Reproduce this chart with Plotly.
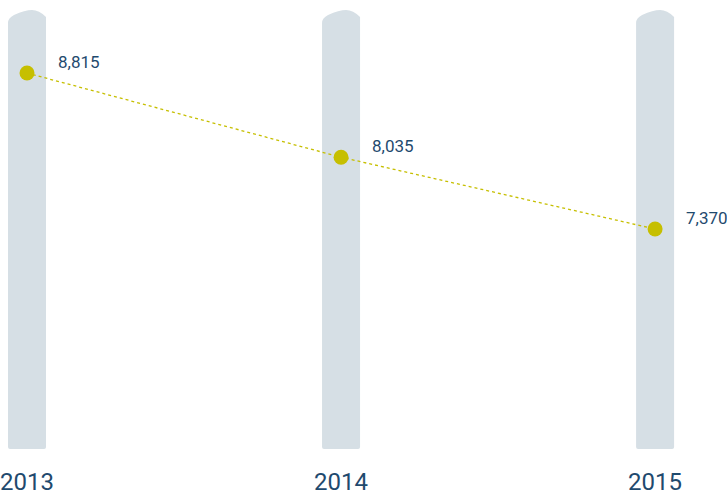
import plotly.graph_objects as go

# Data
years = ["2013", "2014", "2015"]
values = [8815, 8035, 7370]

x_pos = list(range(len(years)))
bar_color = "#d6dfe5"
dot_color = "#c6bf00"
text_color = "#1f4a6e"

# decorative columns behind each point (pencil-like tab at the top)
half_w = 19 / 314          # in x units
px_y = 1 / 439             # one pixel in paper units
shapes = []
for x in x_pos:
    l, r = x - half_w, x + half_w
    u = half_w / 19
    path = (
        f"M {l},0 L {l},{1 - 13 * px_y} "
        f"Q {l},{1 - 8 * px_y} {l + 6 * u},{1 - 5 * px_y} "
        f"Q {l + 17 * u},{1} {l + 24 * u},{1} "
        f"Q {l + 31 * u},{1} {r},{1 - 7 * px_y} "
        f"L {r},{2 * px_y} Q {r},0 {r - 2 * u},0 "
        f"L {l + 2 * u},0 Q {l},0 {l},{2 * px_y} Z"
    )
    shapes.append(dict(type="path", path=path, xref="x", yref="paper",
                       fillcolor=bar_color, line=dict(width=0), layer="below"))

trace = go.Scatter(
    x=x_pos, y=values, mode="lines+markers",
    line=dict(color=dot_color, width=1.3, dash="dot"),
    marker=dict(color=dot_color, size=15),
    hoverinfo="skip",
)

annotations = [
    dict(x=x, y=v, text=f"{v:,}", showarrow=False, xanchor="left", yanchor="middle",
         xshift=29, yshift=11, font=dict(size=17, color=text_color, family="Roboto"))
    for x, v in zip(x_pos, values)
]

layout = go.Layout(
    width=727, height=495,
    margin=dict(l=0, r=0, t=10, b=46),
    paper_bgcolor="white", plot_bgcolor="white",
    showlegend=False,
    shapes=shapes,
    annotations=annotations,
    xaxis=dict(range=[-0.086, 2.229], tickvals=x_pos, ticktext=years,
               showgrid=False, zeroline=False, showline=False, ticks="",
               ticklabelstandoff=16, ticklabeloverflow="allow",
               tickfont=dict(size=24, color=text_color, family="Roboto")),
    yaxis=dict(range=[5332, 9399], visible=False, showgrid=False, zeroline=False),
)

fig = go.Figure(data=[trace], layout=layout)
# drop the browser's default body margin so the figure fills the window
fig.write_html("out.html", config={"displayModeBar": False},
               post_script="document.body.style.margin='0';")
